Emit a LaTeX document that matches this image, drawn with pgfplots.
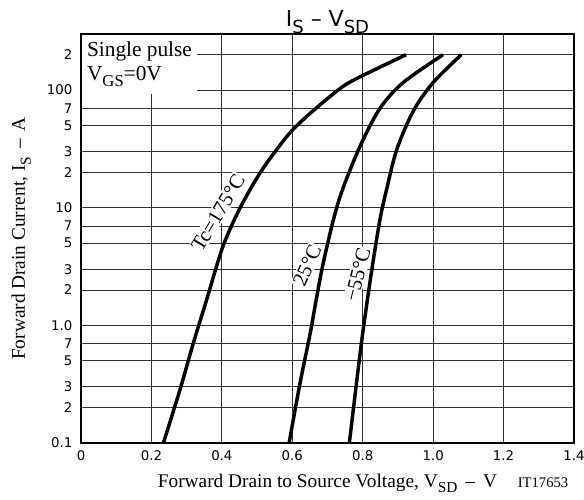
\documentclass[border=0pt]{standalone}
\usepackage{fontspec}
\setmainfont{Liberation Serif}
\newfontfamily\tickfont{DejaVu Sans}
\usepackage{pgfplots}
\pgfplotsset{compat=1.18}

% lowered, enlarged subscripts as used in datasheet labels
\newcommand\lsub[2]{\raisebox{-0.3em}{\fontsize{#1}{#1}\selectfont #2}}

\begin{document}
\begin{tikzpicture}
\path[use as bounding box] (0,0) rectangle (438pt,374.25pt);
\begin{axis}[
  at={(60.75pt,42pt)}, anchor=south west,
  scale only axis, width=369.75pt, height=306.75pt,
  xmin=0, xmax=1.4, ymode=log, ymin=0.1, ymax=300,
  xtick={0,0.2,0.4,0.6,0.8,1.0,1.2,1.4},
  xticklabels={0,0.2,0.4,0.6,0.8,1.0,1.2,1.4},
  ytick={0.1,0.2,0.3,0.5,0.7,1,2,3,5,7,10,20,30,50,70,100,200},
  yticklabels={0.1,2,3,5,7,1.0,2,3,5,7,10,2,3,5,7,100,2},
  minor tick num=0,
  grid=major,
  major grid style={black!80, line width=0.6pt},
  major tick length=0pt,
  axis line style={black, line width=1.1pt},
  tick label style={font=\tickfont\fontsize{10}{12}\selectfont},
  xticklabel style={yshift=-2pt},
  yticklabel style={xshift=-3pt},
  xlabel={Forward Drain to Source Voltage, V\lsub{11.5}{SD} \,–\, V},
  xlabel style={at={(axis description cs:0.5,-0.1076)}, anchor=base,
    font=\fontsize{14.5}{16}\selectfont},
  ylabel={Forward Drain Current, I\lsub{11.5}{S} \,–\, A},
  ylabel style={at={(axis description cs:-0.1136,0.5)}, anchor=base,
    font=\fontsize{14.5}{16}\selectfont},
]
% Tc = 175 C
\addplot[black, line width=2.6pt, smooth] coordinates {
  (0.234,0.1) (0.281,0.283) (0.319,0.707) (0.357,1.66) (0.403,4.69)
  (0.452,10) (0.509,19.9) (0.565,34.0) (0.603,46.6) (0.659,66.7)
  (0.741,106) (0.800,133) (0.923,200)};
% Tc = 25 C
\addplot[black, line width=2.6pt, smooth] coordinates {
  (0.591,0.1) (0.622,0.323) (0.651,0.86) (0.668,1.66) (0.688,3.4)
  (0.717,7.96) (0.743,14.4) (0.793,33.6) (0.849,70) (0.915,116)
  (1.028,200)};
% Tc = -55 C
\addplot[black, line width=2.6pt, smooth] coordinates {
  (0.762,0.1) (0.788,0.447) (0.803,1.0) (0.826,2.99) (0.849,7.96)
  (0.868,14.4) (0.897,31.5) (0.944,66.7) (1.000,116) (1.080,200)};

\node[rotate=59, fill=white, inner sep=1pt, font=\fontsize{15.5}{15.5}\selectfont]
  at (axis cs:0.389,9.08) {Tc=175°C};
\node[rotate=66, fill=white, inner sep=1pt, font=\fontsize{15.5}{15.5}\selectfont]
  at (axis cs:0.642,3.23) {25°C};
\node[rotate=76, fill=white, inner sep=1pt, font=\fontsize{15.5}{15.5}\selectfont]
  at (axis cs:0.785,2.70) {−55°C};
\node[anchor=north west, fill=white, align=left, inner xsep=3.75pt,
  inner ysep=5pt, xshift=0.6pt, yshift=-0.6pt,
  font=\fontsize{16}{18}\selectfont]
  at (axis description cs:0,1) {Single pulse\\V\lsub{12.5}{GS}=0V};
\end{axis}
% title and figure code
\node[anchor=base, font=\tickfont\fontsize{16.5}{16.5}\selectfont]
  at (245.6pt,354pt) {I\lsub{13.5}{S} – V\lsub{13.5}{SD}};
\node[anchor=base, font=\fontsize{11}{12}\selectfont]
  at (407.25pt,9pt) {IT17653};
\end{tikzpicture}
\end{document}
